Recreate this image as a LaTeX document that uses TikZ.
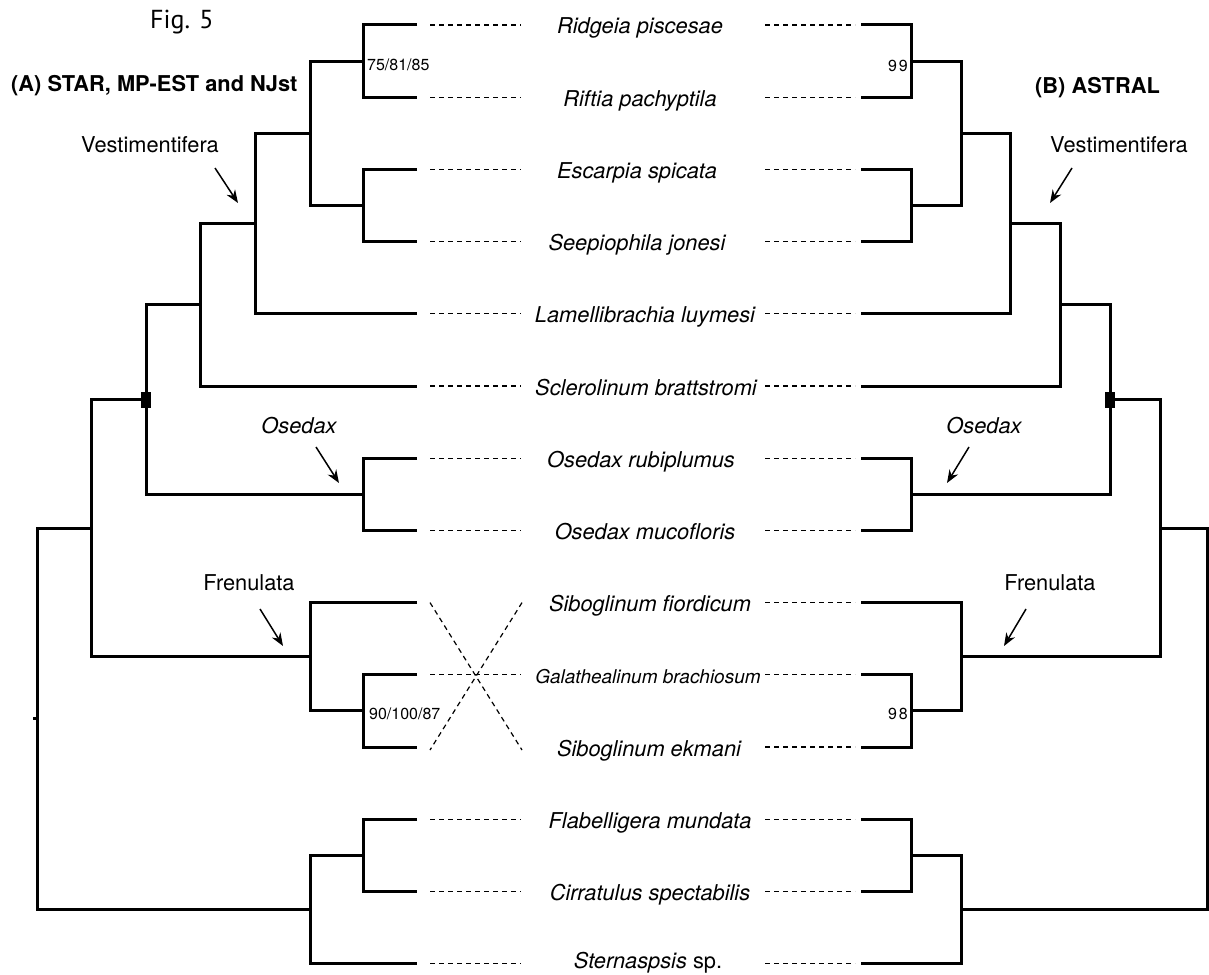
\documentclass[tikz,border=0pt]{standalone}
\usepackage{fontspec}
\setmainfont{TeX Gyre Heros}
\newfontfamily\figfont{PT Sans}
\newfontfamily\spacedfont[LetterSpace=12]{TeX Gyre Heros}
\usetikzlibrary{arrows.meta, positioning}

\begin{document}
\begin{tikzpicture}[
  x=1pt, y=-1pt,
  branch/.style={line width=3pt},
  guide/.style={line width=1.2pt, dash pattern=on 5pt off 4pt},
  taxon/.style={font=\fontsize{21.8}{26}\selectfont\itshape, anchor=base,
                inner sep=0pt},
  clade/.style={font=\fontsize{21.8}{26}\selectfont, anchor=base,
                inner sep=0pt},
  method/.style={font=\fontsize{21.8}{26}\selectfont\bfseries,
                 anchor=base west, inner sep=0pt},
  supp/.style={font=\fontsize{16}{19}\selectfont, inner sep=0pt},
  arr/.style={-{Stealth[length=13pt, width=10pt]}, line width=1.5pt},
  knot/.style={fill=black, minimum width=10pt, minimum height=16pt,
               inner sep=0pt}
]
  \useasboundingbox (0,0) rectangle (1209,974);

  % leaf tips of both trees
  \foreach \i/\y in {1/25, 2/97.2, 3/169.4, 4/241.6, 5/313.8, 6/386,
                     7/458.2, 8/530.4, 9/602.6, 10/674.8, 11/747,
                     12/819.2, 13/891.4, 14/963.6} {
    \coordinate (L\i) at (417,\y);
    \coordinate (R\i) at (861,\y);
  }

  % taxa
  \foreach \i/\x/\y/\name in {1/640/25/{Ridgeia piscesae},
      2/640/97.2/{Riftia pachyptila}, 3/637/169.4/{Escarpia spicata},
      4/637/241.6/{Seepiophila jonesi}, 5/645/313.8/{Lamellibrachia luymesi},
      6/646/386/{Sclerolinum brattstromi}, 7/641/458.2/{Osedax rubiplumus},
      8/645/530.4/{Osedax mucofloris}, 9/650/602.6/{Siboglinum fiordicum},
      10/648/674.8/{{\fontsize{19}{23}\selectfont Galathealinum brachiosum}},
      11/649/747/{Siboglinum ekmani}, 12/650/819.2/{Flabelligera mundata},
      13/650/891.4/{Cirratulus spectabilis},
      14/648/959/{Sternaspsis {\upshape sp.}}} {
    \node[taxon] (t\i) at (\x,\y+9) {\name};
  }

  % dashed guides
  \foreach \i in {1,...,8,10,12,13,14}
    \draw[guide] ([xshift=13pt]L\i) -- ([xshift=104pt]L\i);
  \foreach \i in {1,...,14}
    \draw[guide] ([xshift=-96pt]R\i) -- ([xshift=-6pt]R\i);
  \draw[guide] ([xshift=13pt]L9) -- ([xshift=105pt, yshift=-3pt]L11);
  \draw[guide] ([xshift=105pt]L9) -- ([xshift=13pt, yshift=-3pt]L11);

  % (A) STAR, MP-EST and NJst
  \coordinate (a12) at (363,61.1);
  \coordinate (a34) at (363,205.5);
  \coordinate (a14) at (310,133.3);
  \coordinate (a15) at (255,223.6);
  \coordinate (a16) at (200,304.8);
  \coordinate (a78) at (363,494.3);
  \coordinate (a18) at (146,399.6);
  \coordinate (a1011) at (363,710.9);
  \coordinate (a911) at (310,656.8);
  \coordinate (a111) at (91,528.2);
  \coordinate (a1213) at (363,855.3);
  \coordinate (a1214) at (310,909.5);
  \coordinate (aroot) at (37,718.8);

  \draw[branch] (L1) -| (a12) |- (L2);
  \draw[branch] (L3) -| (a34) |- (L4);
  \draw[branch] (a12) -| (a14) |- (a34);
  \draw[branch] (a14) -| (a15) |- (L5);
  \draw[branch] (a15) -| (a16) |- (L6);
  \draw[branch] (L7) -| (a78) |- (L8);
  \draw[branch] (a16) -| (a18) |- (a78);
  \draw[branch] (L10) -| (a1011) |- (L11);
  \draw[branch] (L9) -| (a911) |- (a1011);
  \draw[branch] (a18) -| (a111) |- (a911);
  \draw[branch] (L12) -| (a1213) |- (L13);
  \draw[branch] (a1213) -| (a1214) |- (L14);
  \draw[branch] (a111) -| (aroot) |- (a1214);
  \draw[branch] (aroot) -- ++(-4,0);
  \node[knot] (ka) at (a18) {};

  % (B) ASTRAL
  \coordinate (b12) at (911,61.1);
  \coordinate (b34) at (911,205.5);
  \coordinate (b14) at (961,133.3);
  \coordinate (b15) at (1010,223.6);
  \coordinate (b16) at (1060,304.8);
  \coordinate (b78) at (911,494.3);
  \coordinate (b18) at (1110,399.6);
  \coordinate (b1011) at (911,710.9);
  \coordinate (b911) at (961,656.8);
  \coordinate (b111) at (1160,528.2);
  \coordinate (b1213) at (911,855.3);
  \coordinate (b1214) at (961,909.5);
  \coordinate (broot) at (1207,718.8);

  \draw[branch] (R1) -| (b12) |- (R2);
  \draw[branch] (R3) -| (b34) |- (R4);
  \draw[branch] (b12) -| (b14) |- (b34);
  \draw[branch] (b14) -| (b15) |- (R5);
  \draw[branch] (b15) -| (b16) |- (R6);
  \draw[branch] (R7) -| (b78) |- (R8);
  \draw[branch] (b16) -| (b18) |- (b78);
  \draw[branch] (R10) -| (b1011) |- (R11);
  \draw[branch] (R9) -| (b911) |- (b1011);
  \draw[branch] (b18) -| (b111) |- (b911);
  \draw[branch] (R12) -| (b1213) |- (R13);
  \draw[branch] (b1213) -| (b1214) |- (R14);
  \draw[branch] (b111) -| (broot) |- (b1214);
  \node[knot] (kb) at (b18) {};

  % support values
  \node[supp, anchor=west] (sa12) at (367,65) {75/81/85};
  \node[supp, anchor=west] (sa1011) at (369,714) {90/100/87};
  \node[supp, anchor=east, font=\spacedfont\fontsize{16}{19}\selectfont]
    (sb12) at (908,66) {99};
  \node[supp, anchor=east, font=\spacedfont\fontsize{16}{19}\selectfont]
    (sb1011) at (908,714) {98};

  % titles
  \node[anchor=base west, inner sep=0pt,
        font=\figfont\fontsize{26}{30}\selectfont] (fig) at (150,29) {Fig. 5};
  \node[method] (hA) at (11,92) {(A) STAR, MP-EST and NJst};
  \node[method] (hB) at (1035,93) {(B) ASTRAL};

  % clade labels and pointers
  \node[clade] (vestA) at (150,152) {Vestimentifera};
  \node[clade] (vestB) at (1119,152) {Vestimentifera};
  \node[clade] (osA) at (299,433) {\itshape Osedax};
  \node[clade] (osB) at (984,433) {\itshape Osedax};
  \node[clade] (frA) at (249,590) {Frenulata};
  \node[clade] (frB) at (1050,590) {Frenulata};

  \coordinate (pvA) at (238,203);
  \coordinate (pvB) at (1050,203);
  \coordinate (poA) at (339,483);
  \coordinate (poB) at (947,483);
  \coordinate (pfA) at (283,646);
  \coordinate (pfB) at (1004,646);

  \draw[arr] ([xshift=65pt, yshift=-16pt]vestA.base) -- (pvA);
  \draw[arr] ([xshift=-47pt, yshift=-16pt]vestB.base) -- (pvB);
  \draw[arr] ([xshift=17pt, yshift=-14pt]osA.base) -- (poA);
  \draw[arr] ([xshift=-15pt, yshift=-14pt]osB.base) -- (poB);
  \draw[arr] ([xshift=11pt, yshift=-19pt]frA.base) -- (pfA);
  \draw[arr] ([xshift=-24pt, yshift=-19pt]frB.base) -- (pfB);
\end{tikzpicture}
\end{document}
